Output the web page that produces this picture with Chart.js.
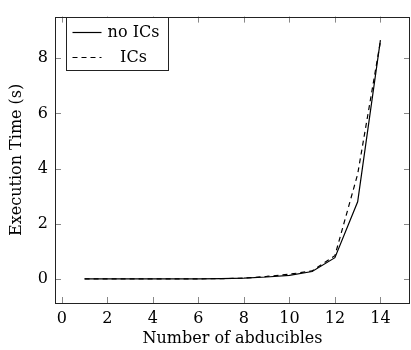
<!DOCTYPE html>
<html>
<head>
<meta charset="utf-8">
<script src="https://cdn.jsdelivr.net/npm/chart.js@4.4.0/dist/chart.umd.min.js"></script>
<style>
  html, body { margin: 0; padding: 0; background: #fff; }
  #wrap { width: 411px; height: 350px; }
</style>
</head>
<body>
<div id="wrap"><canvas id="chart" width="411" height="350"></canvas></div>
<script>
// data
const abducibles = [1, 2, 3, 4, 5, 6, 7, 8, 9, 10, 11, 12, 13, 14];
const timeNoICs = [0.01, 0.01, 0.01, 0.01, 0.01, 0.015, 0.02, 0.04, 0.08, 0.14, 0.28, 0.78, 2.8, 8.65];
const timeICs   = [0.01, 0.01, 0.01, 0.01, 0.01, 0.015, 0.02, 0.04, 0.1, 0.18, 0.3, 0.85, 3.8, 8.6];
const xTicks = [0, 2, 4, 6, 8, 10, 12, 14];
const yTicks = [0, 2, 4, 6, 8];
const seriesLabels = ["no ICs", "ICs"];

const FONT = "'DejaVu Serif', serif";
const FSIZE = 16;

function points(ys) {
    return abducibles.map((x, i) => ({ x: x, y: ys[i] }));
}

// ticks pointing inward on all four sides + frame + legend box
const framePlugin = {
    id: "frame",
    afterDraw(chart) {
        const ctx = chart.ctx;
        const a = chart.chartArea;
        const xs = chart.scales.x, ys = chart.scales.y;
        const len = 6;
        ctx.save();
        ctx.strokeStyle = "#888";
        ctx.lineWidth = 1;
        ctx.beginPath();
        xTicks.forEach(v => {
            const px = Math.round(xs.getPixelForValue(v)) + 0.5;
            ctx.moveTo(px, a.bottom); ctx.lineTo(px, a.bottom - len);
            ctx.moveTo(px, a.top); ctx.lineTo(px, a.top + len);
        });
        yTicks.forEach(v => {
            const py = Math.round(ys.getPixelForValue(v)) + 0.5;
            ctx.moveTo(a.left, py); ctx.lineTo(a.left + len, py);
            ctx.moveTo(a.right, py); ctx.lineTo(a.right - len, py);
        });
        ctx.stroke();
        ctx.strokeStyle = "#222";
        ctx.strokeRect(Math.round(a.left) + 0.5, Math.round(a.top) + 0.5,
            Math.round(a.right - a.left) - 1, Math.round(a.bottom - a.top));

        const bx = 66.5, by = 17.5, bw = 102, bh = 53;
        ctx.fillStyle = "#fff";
        ctx.fillRect(bx, by, bw, bh);
        ctx.strokeStyle = "#222";
        ctx.strokeRect(bx, by, bw, bh);
        ctx.font = FSIZE + "px " + FONT;
        ctx.fillStyle = "#000";
        ctx.textAlign = "center";
        ctx.textBaseline = "middle";
        chart.data.datasets.forEach((ds, i) => {
            const y = by + 15 + i * 25;
            ctx.setLineDash(ds.borderDash || []);
            ctx.strokeStyle = ds.borderColor;
            ctx.lineWidth = ds.borderWidth;
            ctx.beginPath();
            ctx.moveTo(bx + 6, y); ctx.lineTo(bx + 35, y);
            ctx.stroke();
            ctx.setLineDash([]);
            ctx.fillText(ds.label, bx + 67, y);
        });
        ctx.restore();
    }
};

new Chart(document.getElementById("chart").getContext("2d"), {
    type: "line",
    data: {
        datasets: [{
            label: seriesLabels[0],
            data: points(timeNoICs),
            borderColor: "#000",
            borderWidth: 1.2,
            pointRadius: 0,
            tension: 0,
            fill: false
        }, {
            label: seriesLabels[1],
            data: points(timeICs),
            borderColor: "#000",
            borderWidth: 1.2,
            borderDash: [5, 4],
            pointRadius: 0,
            tension: 0,
            fill: false
        }]
    },
    options: {
        responsive: false,
        animation: false,
        layout: { padding: { top: 9, right: 1, left: 0, bottom: 0 } },
        plugins: {
            legend: { display: false },
            tooltip: { enabled: false }
        },
        scales: {
            x: {
                type: "linear",
                min: -0.3,
                max: 15.3,
                afterBuildTicks: s => { s.ticks = xTicks.map(v => ({ value: v })); },
                afterFit: s => { s.height = 47; },
                grid: { display: false, drawTicks: false },
                border: { display: false },
                ticks: { color: "#000", padding: 6, maxRotation: 0, font: { family: FONT, size: FSIZE } },
                title: {
                    display: true,
                    text: "Number of abducibles",
                    color: "#000",
                    padding: { top: 0, bottom: 2 },
                    font: { family: FONT, size: FSIZE }
                }
            },
            y: {
                type: "linear",
                min: -0.86,
                max: 9.5,
                afterBuildTicks: s => { s.ticks = yTicks.map(v => ({ value: v })); },
                afterFit: s => { s.width = 55; },
                grid: { display: false, drawTicks: false },
                border: { display: false },
                ticks: { color: "#000", padding: 7, font: { family: FONT, size: FSIZE } },
                title: {
                    display: true,
                    text: "Execution Time (s)",
                    color: "#000",
                    padding: { top: 7, bottom: 0 },
                    font: { family: FONT, size: FSIZE }
                }
            }
        }
    },
    plugins: [framePlugin]
});
</script>
</body>
</html>
